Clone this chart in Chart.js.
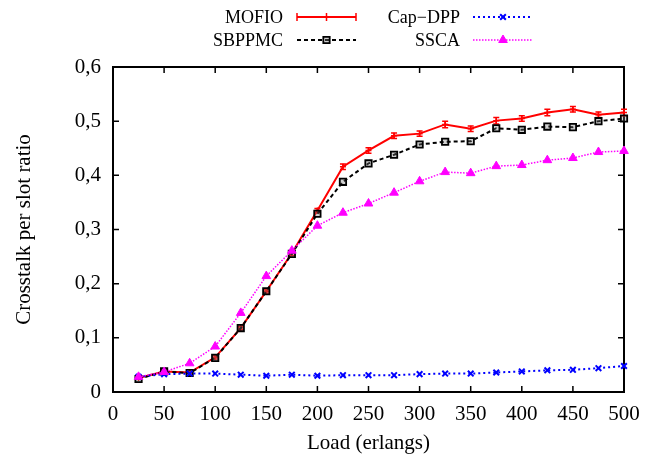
<!DOCTYPE html>
<html>
<head>
<meta charset="utf-8">
<script src="https://cdn.jsdelivr.net/npm/chart.js@4.4.0/dist/chart.umd.min.js"></script>
<style>
  html, body { margin: 0; padding: 0; background: #fff; }
  #wrap { width: 655px; height: 460px; }
</style>
</head>
<body>
<div id="wrap"><canvas id="chart"></canvas></div>
<script>
// values
const loads = [25, 50, 75, 100, 125, 150, 175, 200, 225, 250, 275, 300, 325, 350, 375, 400, 425, 450, 475, 500];
const mofio = [0.026, 0.038, 0.036, 0.064, 0.118, 0.186, 0.256, 0.335, 0.416, 0.446, 0.473, 0.477, 0.494, 0.486, 0.501, 0.505, 0.516, 0.522, 0.512, 0.516];
const mofioErr = [0.002, 0.002, 0.002, 0.003, 0.003, 0.003, 0.004, 0.004, 0.005, 0.005, 0.005, 0.005, 0.006, 0.005, 0.006, 0.005, 0.006, 0.005, 0.005, 0.006];
const sbppmc = [0.024, 0.038, 0.035, 0.063, 0.118, 0.186, 0.255, 0.329, 0.388, 0.422, 0.438, 0.457, 0.462, 0.463, 0.487, 0.484, 0.490, 0.489, 0.500, 0.505];
const capDpp = [0.028, 0.033, 0.034, 0.034, 0.032, 0.030, 0.032, 0.030, 0.031, 0.031, 0.031, 0.033, 0.034, 0.034, 0.036, 0.038, 0.040, 0.041, 0.044, 0.048];
const ssca = [0.028, 0.037, 0.053, 0.084, 0.146, 0.214, 0.261, 0.307, 0.331, 0.348, 0.368, 0.389, 0.406, 0.404, 0.417, 0.419, 0.428, 0.432, 0.443, 0.445];
const yTickLabels = ['0', '0,1', '0,2', '0,3', '0,4', '0,5', '0,6'];

const FONT = 'Liberation Serif';
const toPoints = vals => loads.map((l, i) => ({ x: l, y: vals[i] }));

// inward ticks on all four sides + border
const framePlugin = {
  id: 'frame',
  beforeDatasetsDraw(chart) {
    const { ctx, chartArea: a, scales: { x, y } } = chart;
    ctx.save();
    ctx.strokeStyle = '#000';
    ctx.lineWidth = 1.5;
    ctx.beginPath();
    x.ticks.forEach(t => {
      const px = x.getPixelForValue(t.value);
      ctx.moveTo(px, a.bottom); ctx.lineTo(px, a.bottom - 6);
      ctx.moveTo(px, a.top); ctx.lineTo(px, a.top + 6);
    });
    y.ticks.forEach(t => {
      const py = y.getPixelForValue(t.value);
      ctx.moveTo(a.left, py); ctx.lineTo(a.left + 6, py);
      ctx.moveTo(a.right, py); ctx.lineTo(a.right - 6, py);
    });
    ctx.stroke();
    ctx.lineWidth = 2;
    ctx.strokeRect(a.left, a.top, a.right - a.left, a.bottom - a.top);
    ctx.restore();
  }
};

// error bars for MOFIO
const errorBarPlugin = {
  id: 'errbars',
  beforeDatasetsDraw(chart) {
    const { ctx, scales: { x, y } } = chart;
    ctx.save();
    ctx.strokeStyle = '#ff0000';
    ctx.lineWidth = 1.5;
    ctx.beginPath();
    loads.forEach((l, i) => {
      const px = x.getPixelForValue(l);
      const top = y.getPixelForValue(mofio[i] + mofioErr[i]);
      const bot = y.getPixelForValue(mofio[i] - mofioErr[i]);
      ctx.moveTo(px, top); ctx.lineTo(px, bot);
      ctx.moveTo(px - 3, top); ctx.lineTo(px + 3, top);
      ctx.moveTo(px - 3, bot); ctx.lineTo(px + 3, bot);
    });
    ctx.stroke();
    ctx.restore();
  }
};

// gnuplot style key: text right aligned, then a line sample
const keyPlugin = {
  id: 'key',
  afterDraw(chart) {
    const { ctx } = chart;
    const rows = [
      { ds: 0, textRight: 283, x0: 297, x1: 356, y: 17 },
      { ds: 1, textRight: 283, x0: 297, x1: 356, y: 40 },
      { ds: 2, textRight: 460, x0: 473, x1: 533, y: 17 },
      { ds: 3, textRight: 460, x0: 473, x1: 533, y: 40 }
    ];
    ctx.save();
    rows.forEach(r => {
      const d = chart.data.datasets[r.ds];
      ctx.fillStyle = '#000';
      ctx.font = '18px "' + FONT + '"';
      ctx.textAlign = 'right';
      ctx.textBaseline = 'middle';
      ctx.fillText(d.label, r.textRight, r.y + 1);
      ctx.strokeStyle = d.borderColor;
      ctx.lineWidth = d.borderWidth;
      ctx.setLineDash(d.borderDash || []);
      ctx.beginPath();
      ctx.moveTo(r.x0, r.y); ctx.lineTo(r.x1, r.y);
      ctx.stroke();
      ctx.setLineDash([]);
      const xm = (r.x0 + r.x1) / 2;
      if (r.ds === 0) {
        ctx.lineWidth = 1.5;
        ctx.beginPath();
        [r.x0, xm, r.x1].forEach(px => { ctx.moveTo(px, r.y - 4); ctx.lineTo(px, r.y + 4); });
        ctx.stroke();
      } else {
        ctx.fillStyle = d.pointBackgroundColor;
        ctx.strokeStyle = d.pointBorderColor;
        ctx.lineWidth = d.pointBorderWidth;
        Chart.helpers.drawPoint(ctx, { pointStyle: d.pointStyle, radius: d.pointRadius, rotation: 0, borderWidth: d.pointBorderWidth }, xm, r.y);
      }
    });
    ctx.restore();
  }
};

new Chart(document.getElementById('chart'), {
  type: 'line',
  data: {
    datasets: [
      {
        label: 'MOFIO', data: toPoints(mofio), order: 4,
        borderColor: '#ff0000', borderWidth: 2,
        pointStyle: 'cross', pointRadius: 3, pointBorderWidth: 1.5,
        pointBorderColor: '#ff0000', pointBackgroundColor: '#ff0000'
      },
      {
        label: 'SBPPMC', data: toPoints(sbppmc), order: 3,
        borderColor: '#000000', borderWidth: 2, borderDash: [4, 3],
        pointStyle: 'rect', pointRadius: 4.5, pointBorderWidth: 1.8,
        pointBorderColor: '#000000', pointBackgroundColor: 'rgba(120,120,120,0.35)'
      },
      {
        label: 'Cap\u2212DPP', data: toPoints(capDpp), order: 2,
        borderColor: '#0000ff', borderWidth: 2, borderDash: [2, 3],
        pointStyle: 'crossRot', pointRadius: 4, pointBorderWidth: 2,
        pointBorderColor: '#0000ff', pointBackgroundColor: '#0000ff'
      },
      {
        label: 'SSCA', data: toPoints(ssca), order: 1,
        borderColor: '#ff00ff', borderWidth: 1.5, borderDash: [1.5, 1.5],
        pointStyle: 'triangle', pointRadius: 5, pointBorderWidth: 1,
        pointBorderColor: '#ff00ff', pointBackgroundColor: '#ff00ff'
      }
    ]
  },
  options: {
    responsive: true,
    maintainAspectRatio: false,
    animation: false,
    devicePixelRatio: 1,
    layout: { padding: { top: 67, right: 31, left: 0, bottom: 0 } },
    elements: { line: { tension: 0, fill: false } },
    datasets: { line: { clip: 10 } },
    plugins: { legend: { display: false }, tooltip: { enabled: false } },
    scales: {
      x: {
        type: 'linear', min: 0, max: 500,
        grid: { display: false, drawTicks: false },
        border: { display: false },
        ticks: { stepSize: 50, color: '#000', padding: 10, font: { family: FONT, size: 21 } },
        title: { display: true, text: 'Load (erlangs)', color: '#000', padding: { top: 0, bottom: 4 }, font: { family: FONT, size: 21 } },
        afterFit(scale) { scale.height = 68; }
      },
      y: {
        min: 0, max: 0.6,
        grid: { display: false, drawTicks: false },
        border: { display: false },
        ticks: {
          stepSize: 0.1, color: '#000', padding: 12, font: { family: FONT, size: 21 },
          callback: (v, i) => yTickLabels[i]
        },
        title: { display: true, text: 'Crosstalk per slot ratio', color: '#000', padding: { top: 12, bottom: 0 }, font: { family: FONT, size: 21 } },
        afterFit(scale) { scale.width = 113; }
      }
    }
  },
  plugins: [framePlugin, errorBarPlugin, keyPlugin]
});
</script>
</body>
</html>
